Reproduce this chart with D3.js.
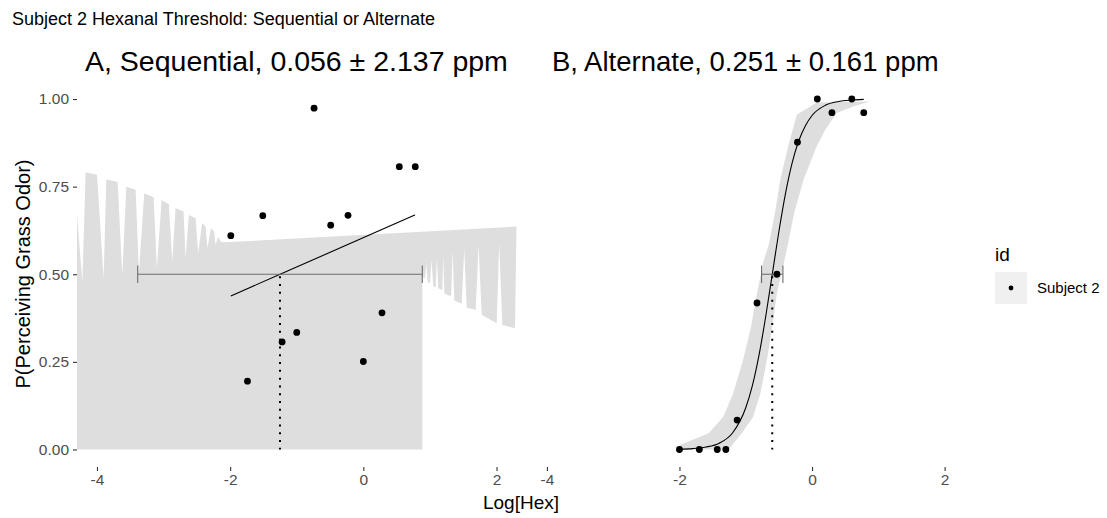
<!DOCTYPE html>
<html><head><meta charset="utf-8">
<script src="https://cdn.jsdelivr.net/npm/d3@7"></script>
<style>body{margin:0;background:#fff}svg{display:block;font-family:"Liberation Sans",Arial,sans-serif}</style>
</head><body><svg id="c" width="1107" height="518"></svg>
<script>
// ---------- data ----------
const chartTitle = "Subject 2 Hexanal Threshold: Sequential or Alternate";
const panelNames = ["A, Sequential", "B, Alternate"];
const thresholdPpm = [0.056, 0.251];
const thresholdSE = [2.137, 0.161];
const xTicks = [-4, -2, 0, 2];
const yTicks = [0, 0.25, 0.5, 0.75, 1];
const yTickLabels = ["0.00", "0.25", "0.50", "0.75", "1.00"];
const legendTitle = "id";
const seriesName = "Subject 2";

// Panel A observations (log10 concentration, proportion)
const pointsA_x = [-1.99, -1.74, -1.51, -1.22, -1.00, -0.74, -0.49, -0.23, 0.00, 0.28, 0.54, 0.78];
const pointsA_y = [0.61, 0.195, 0.667, 0.307, 0.334, 0.974, 0.64, 0.668, 0.251, 0.39, 0.807, 0.807];
// Panel B observations
const pointsB_x = [-2.00, -1.70, -1.43, -1.30, -1.13, -0.83, -0.53, -0.22, 0.08, 0.30, 0.60, 0.78];
const pointsB_y = [0, 0, 0, 0, 0.084, 0.418, 0.50, 0.877, 1.0, 0.961, 1.0, 0.961];

// fitted curves
const curveA_x = [-1.99, -1.25, 0.776];
const curveA_y = [0.438, 0.5, 0.669];
const curveB_x = [-2.0, -1.8, -1.6, -1.4, -1.2, -1.0, -0.9, -0.8, -0.7, -0.6, -0.5, -0.4, -0.3, -0.2, -0.1, 0.0, 0.2, 0.4, 0.6, 0.78];
const curveB_y = [0.001, 0.0025, 0.007, 0.018, 0.047, 0.119, 0.182, 0.269, 0.378, 0.5, 0.622, 0.731, 0.818, 0.881, 0.924, 0.953, 0.982, 0.993, 0.997, 0.999];

// confidence ribbon A (edge vertices)
const ribbonA_top = [[-4.30,0.669],[-4.22,0.479],[-4.17,0.791],[-4.00,0.784],[-3.90,0.489],[-3.86,0.771],[-3.69,0.763],[-3.62,0.498],[-3.56,0.750],[-3.42,0.741],[-3.37,0.507],[-3.29,0.731],[-3.15,0.720],[-3.10,0.517],[-3.03,0.712],[-2.92,0.700],[-2.87,0.536],[-2.82,0.689],[-2.70,0.679],[-2.67,0.546],[-2.62,0.669],[-2.52,0.660],[-2.48,0.560],[-2.42,0.646],[-2.37,0.636],[-2.34,0.574],[-2.29,0.631],[-2.24,0.622],[-2.22,0.584],[-2.18,0.607],[-2.14,0.593],[-2.09,0.591],[2.30,0.636]];
const ribbonA_bottom = [[-4.30,0],[0.886,0],[0.886,0.493],[0.926,0.488],[0.946,0.531],[0.966,0.478],[1.0,0.474],[1.025,0.540],[1.05,0.466],[1.087,0.462],[1.105,0.546],[1.126,0.460],[1.186,0.455],[1.20,0.555],[1.216,0.445],[1.317,0.437],[1.34,0.565],[1.366,0.425],[1.477,0.416],[1.515,0.574],[1.552,0.405],[1.688,0.398],[1.73,0.584],[1.778,0.384],[2.003,0.360],[2.04,0.589],[2.087,0.355],[2.278,0.346],[2.30,0.636]];
// confidence ribbon B
const ribbonB_upper = [[-2.0,0.012],[-1.56,0.046],[-1.34,0.093],[-1.19,0.16],[-1.04,0.255],[-0.92,0.35],[-0.83,0.446],[-0.73,0.54],[-0.66,0.579],[-0.56,0.674],[-0.48,0.769],[-0.36,0.865],[-0.23,0.955],[0.07,0.99],[0.875,0.993]];
const ribbonB_lower = [[-2.0,0],[-1.26,0],[-1.06,0.046],[-0.89,0.093],[-0.78,0.16],[-0.68,0.255],[-0.60,0.35],[-0.53,0.446],[-0.45,0.51],[-0.37,0.58],[-0.27,0.674],[-0.13,0.769],[0.07,0.865],[0.2,0.912],[0.37,0.96],[0.623,0.979],[0.875,0.993]];

// ---------- drawing ----------
const svg = d3.select("#c");
svg.append("rect").attr("width",1107).attr("height",518).attr("fill","#fff");
const y = d3.scaleLinear().domain([-0.05,1.05]).range([467,81.5]);
const xA = d3.scaleLinear().domain([-4.3,2.3]).range([77,516.5]);
const xB = d3.scaleLinear().domain([-4.3,2.3]).range([527,964.5]);
const ribbonFill = "#dedede";
const titleX = [85, 552], titleSize = [28.5, 27.5];

function panel(x, idx, ribbonPath, cx, cy, px, py) {
  const g = svg.append("g");
  g.append("path").attr("d", ribbonPath).attr("fill", ribbonFill);
  const line = d3.line().x(d=>x(d[0])).y(d=>y(d[1])).curve(d3.curveMonotoneX);
  g.append("path").datum(cx.map((v,i)=>[v,cy[i]])).attr("d", line)
    .attr("fill","none").attr("stroke","#000").attr("stroke-width",1.1);
  const lt = Math.log10(thresholdPpm[idx]);
  g.append("line").attr("x1",x(lt)).attr("x2",x(lt)).attr("y1",y(0.5)+2).attr("y2",y(0))
    .attr("stroke","#000").attr("stroke-width",2).attr("stroke-dasharray","2 5.8");
  const lo = lt - thresholdSE[idx], hi = lt + thresholdSE[idx];
  const eb = g.append("g").attr("stroke","#6e6e6e").attr("stroke-width",1.1);
  eb.append("line").attr("x1",x(lo)).attr("x2",x(hi)).attr("y1",y(0.5)).attr("y2",y(0.5));
  [lo,hi].forEach(v=>eb.append("line").attr("x1",x(v)).attr("x2",x(v)).attr("y1",y(0.525)).attr("y2",y(0.475)));
  g.selectAll("circle").data(px.map((v,i)=>[v,py[i]])).join("circle")
    .attr("cx",d=>x(d[0])).attr("cy",d=>y(d[1])).attr("r",3.4).attr("fill","#000");
  // x axis
  const ax = g.append("g").attr("transform","translate(0,467)")
    .call(d3.axisBottom(x).tickValues(xTicks).tickSize(4).tickPadding(3).tickFormat(d=>d<0?"-"+Math.abs(d):d));
  ax.select(".domain").remove();
  ax.selectAll("line").attr("stroke","#333").attr("stroke-width",1.1);
  ax.selectAll("text").attr("fill","#4d4d4d").attr("font-size","15.5px").attr("font-family","Liberation Sans, Arial, sans-serif");
  // title
  g.append("text").attr("x",titleX[idx]).attr("y",71)
    .attr("font-size",titleSize[idx]+"px").attr("fill","#000")
    .text(`${panelNames[idx]}, ${thresholdPpm[idx].toFixed(3)} \u00b1 ${thresholdSE[idx].toFixed(3)} ppm`);
}
const pathA = (function(){
  const pts = ribbonA_top.concat(ribbonA_bottom.slice().reverse());
  return "M" + pts.map(d=>xA(d[0])+","+y(d[1])).join("L") + "Z";
})();
const pathB = (function(){
  const pts = ribbonB_upper.concat(ribbonB_lower.slice().reverse());
  return "M" + pts.map(d=>xB(d[0])+","+y(d[1])).join("L") + "Z";
})();
panel(xA, 0, pathA, curveA_x, curveA_y, pointsA_x, pointsA_y);
panel(xB, 1, pathB, curveB_x, curveB_y, pointsB_x, pointsB_y);

// y axis
const ay = svg.append("g").attr("transform","translate(77,0)")
  .call(d3.axisLeft(y).tickValues(yTicks).tickSize(4).tickPadding(4).tickFormat((d,i)=>yTickLabels[i]));
ay.select(".domain").remove();
ay.selectAll("line").attr("stroke","#333").attr("stroke-width",1.1);
ay.selectAll("text").attr("fill","#4d4d4d").attr("font-size","15.5px").attr("font-family","Liberation Sans, Arial, sans-serif");

// titles
svg.append("text").attr("x",12).attr("y",25).attr("font-size","18px").attr("fill","#000").text(chartTitle);
svg.append("text").attr("x",521).attr("y",509).attr("text-anchor","middle").attr("font-size","19px").attr("fill","#000").text("Log[Hex]");
svg.append("text").attr("transform","translate(30,274) rotate(-90)").attr("text-anchor","middle")
  .attr("font-size","20px").attr("fill","#000").text("P(Perceiving Grass Odor)");

// legend
svg.append("text").attr("x",995).attr("y",261).attr("font-size","19px").attr("fill","#000").text(legendTitle);
svg.append("rect").attr("x",995).attr("y",272).attr("width",32).attr("height",32).attr("fill","#f0f0f0");
svg.append("circle").attr("cx",1011).attr("cy",288).attr("r",2.4).attr("fill","#000");
svg.append("text").attr("x",1037).attr("y",293).attr("font-size","15px").attr("fill","#000").text(seriesName);
</script></body></html>
